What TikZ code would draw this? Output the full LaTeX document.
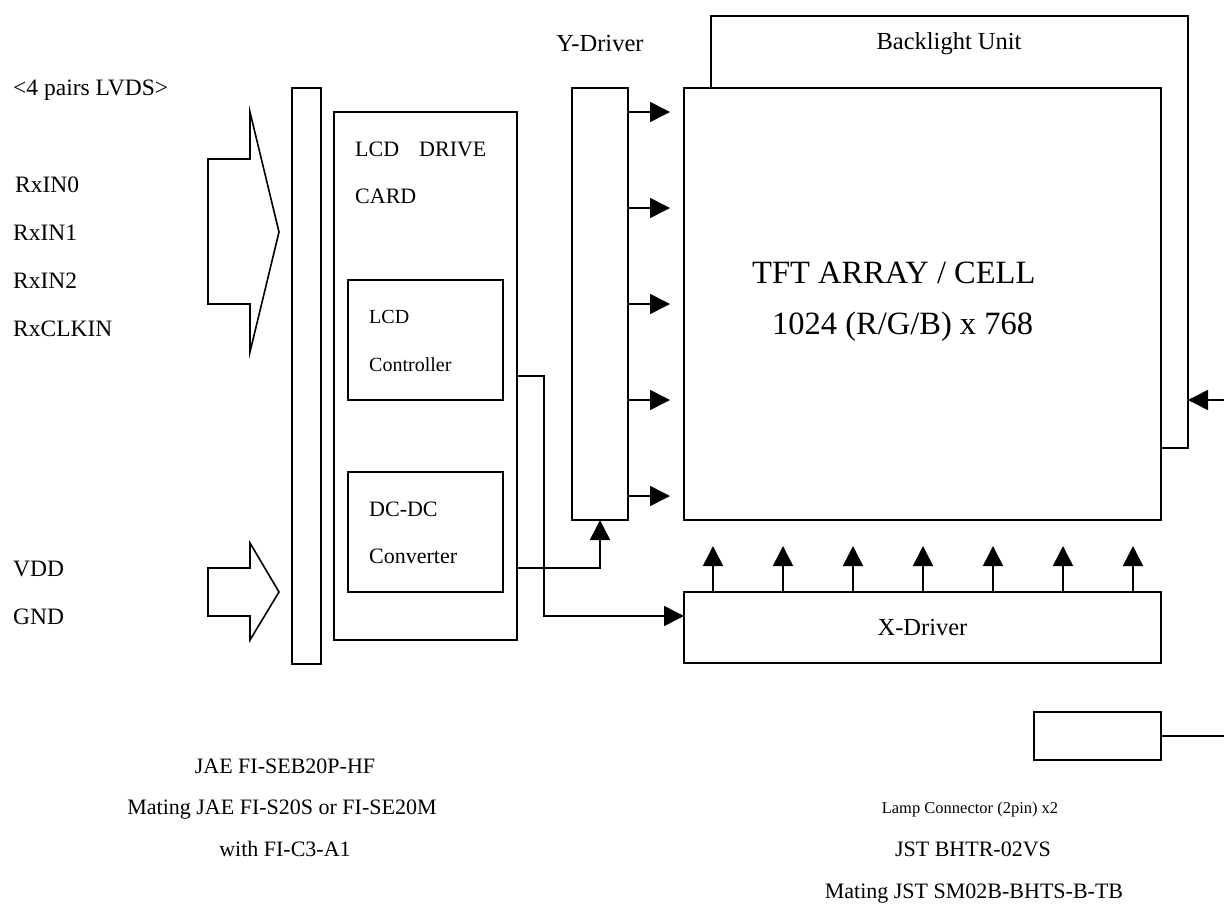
\documentclass[tikz,border=0pt]{standalone}
\usepackage{fontspec}
\setmainfont{Liberation Serif}
\usetikzlibrary{arrows.meta}
\begin{document}
\begin{tikzpicture}[x=1pt,y=-1pt,
  box/.style={draw, line width=1.6pt, inner sep=0pt, outer sep=0pt, anchor=north west},
  wire/.style={line width=1.6pt},
  arr/.style={line width=1.6pt, -{Triangle[length=20pt,width=20pt]}},
  lbl/.style={inner sep=0pt, anchor=base west, font=\fontsize{22}{26}\selectfont},
  side/.style={inner sep=0pt, anchor=base west, font=\fontsize{23.5}{28}\selectfont},
  clbl/.style={inner sep=0pt, anchor=base, font=\fontsize{22}{26}\selectfont},
  small/.style={inner sep=0pt, anchor=base west, font=\fontsize{20}{24}\selectfont},
  head/.style={inner sep=0pt, font=\fontsize{24.5}{28}\selectfont},
  huge/.style={inner sep=0pt, anchor=base west, font=\fontsize{32.5}{38}\selectfont},
]
\useasboundingbox (0,0) rectangle (1224,918);

% blocks
\node[box, minimum width=29pt, minimum height=576pt] (conn) at (292,88) {};
\node[box, minimum width=183pt, minimum height=528pt] (card) at (334,112) {};
\node[box, minimum width=155pt, minimum height=120pt] (ctrl) at (348,280) {};
\node[box, minimum width=155pt, minimum height=120pt] (dcdc) at (348,472) {};
\node[box, minimum width=56pt, minimum height=432pt] (yd) at (572,88) {};
\node[box, minimum width=477pt, minimum height=432pt] (bl) at (711,16) {};
\node[box, fill=white, minimum width=477pt, minimum height=432pt] (tft) at (684,88) {};
\node[box, minimum width=477pt, minimum height=71pt, font=\fontsize{24.5}{28}\selectfont] (xd) at (684,592) {X-Driver};
\node[box, minimum width=127pt, minimum height=48pt] (lamp) at (1034,712) {};

% input arrows (block arrows)
\draw[wire] (208,159) -- (250,159) -- (250,112) -- (279,232) -- (250,352) -- (250,304) -- (208,304) -- cycle;
\draw[wire] (208,568) -- (250,568) -- (250,543) -- (279,592) -- (250,640) -- (250,616) -- (208,616) -- cycle;

% labels
\node[side] (lvds) at (13,95) {<4 pairs LVDS>};
\node[side] (rx0) at (15,192) {RxIN0};
\node[side] (rx1) at (13,240) {RxIN1};
\node[side] (rx2) at (13,288) {RxIN2};
\node[side] (rxc) at (13,336) {RxCLKIN};
\node[side] (vdd) at (13,576) {VDD};
\node[side] (gnd) at (13,624) {GND};

\node[lbl] (cardt1) at (355,156) {LCD\hspace{20pt}DRIVE};
\node[lbl] (cardt2) at (355,203) {CARD};
\node[small] (ctrlt1) at (369,323) {LCD};
\node[small] (ctrlt2) at (369,371) {Controller};
\node[lbl] (dcdct1) at (369,516) {DC-DC};
\node[lbl] (dcdct2) at (369,563) {Converter};

\node[head] (ydt) at (yd.north |- 0,44) {Y-Driver};
\node[head] (blt) at (949,44) {Backlight Unit};

\node[huge] (tft1) at (752,283) {TFT ARRAY / CELL};
\node[huge] (tft2) at (772,334) {1024 (R/G/B) x 768};

\node[clbl] (b1) at (285,773) {JAE FI-SEB20P-HF};
\node[clbl] (b2) at (282,814) {Mating JAE FI-S20S or FI-SE20M};
\node[clbl] (b3) at (285,856) {with FI-C3-A1};
\node[inner sep=0pt, anchor=base, font=\fontsize{16.5}{20}\selectfont] (r1) at (970,813) {Lamp Connector (2pin) x2};
\node[clbl] (r2) at (973,856) {JST BHTR-02VS};
\node[clbl] (r3) at (974,898) {Mating JST SM02B-BHTS-B-TB};

% Y-driver to TFT
\foreach \yy in {112,208,304,400,496}
  \draw[arr, shorten >=14pt] (yd.east |- 0,\yy) -- (tft.west |- 0,\yy);
% X-driver to TFT
\foreach \xx in {713,783,853,923,993,1063,1133}
  \draw[arr, shorten >=26pt] (xd.north -| \xx,0) -- (tft.south -| \xx,0);

% card to drivers
\draw[arr] (card.east |- 0,376) -- ++(27,0) |- (xd.west |- 0,616);
\draw[arr] (card.east |- 0,568) -| (yd.south);

% lamp / backlight
\coordinate (blin) at (1224,400);
\coordinate (lampout) at (1224,736);
\draw[arr] (blin) -- (bl.east |- blin);
\draw[wire] (lamp.east) -- (lampout);
\end{tikzpicture}
\end{document}
